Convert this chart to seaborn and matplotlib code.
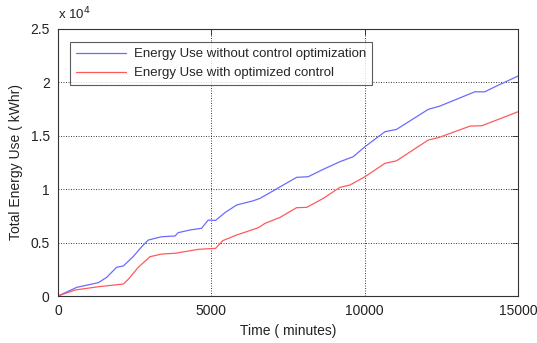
import numpy as np
import pandas as pd
import matplotlib
matplotlib.use("Agg")
import matplotlib.pyplot as plt
import seaborn as sns
from matplotlib.ticker import FuncFormatter

# Data (time in minutes, energy in kWhr)
t_base = [0, 610, 1315, 1590, 1910, 2130, 2450, 2730, 2945, 3380, 3815, 3920, 4300,
          4680, 4900, 5140, 5440, 5825, 6370, 6585, 6965, 7345, 7780, 8160, 8650,
          9190, 9625, 10010, 10660, 11040, 12070, 12450, 13595, 13920, 14300, 15000]
e_base = [0, 810, 1250, 1750, 2690, 2810, 3680, 4620, 5240, 5550, 5620, 5930, 6180,
          6340, 7110, 7080, 7800, 8520, 8920, 9140, 9760, 10390, 11110, 11170, 11860,
          12570, 13040, 13980, 15380, 15600, 17470, 17780, 19120, 19120, 19660, 20590]

t_opt = [0, 555, 1315, 2130, 2290, 2620, 3000, 3380, 3815, 4250, 4575, 5140, 5370,
         5825, 6530, 6750, 7240, 7780, 8110, 8650, 9190, 9520, 10010, 10660, 11040,
         12070, 12400, 13440, 13820, 14300, 15000]
e_opt = [0, 560, 870, 1120, 1560, 2690, 3680, 3930, 4000, 4210, 4370, 4460, 5180,
         5710, 6390, 6800, 7360, 8270, 8300, 9140, 10170, 10390, 11170, 12420, 12660,
         14600, 14820, 15910, 15940, 16470, 17250]

labels = ["Energy Use without control optimization", "Energy Use with optimized control"]
x_ticks = [0, 5000, 10000, 15000]
y_ticks = [0, 5000, 10000, 15000, 20000, 25000]

df = pd.concat([
    pd.DataFrame({"t": t_base, "e": e_base, "series": labels[0]}),
    pd.DataFrame({"t": t_opt, "e": e_opt, "series": labels[1]}),
])

sns.set_style("white")
plt.rcParams['font.family'] = ['Liberation Sans', 'DejaVu Sans']

fig = plt.figure(figsize=(5.37, 3.43), dpi=100)
ax = fig.add_axes([0.108, 0.137, 0.8566, 0.7785])

sns.lineplot(data=df, x="t", y="e", hue="series", sort=False,
             palette={labels[0]: "#6b6bff", labels[1]: "#ff5a5a"},
             linewidth=0.9, ax=ax, estimator=None)

ax.set_xlim(0, 15000)
ax.set_ylim(0, 25000)
ax.set_xticks(x_ticks)
ax.set_yticks(y_ticks)
ax.yaxis.set_major_formatter(FuncFormatter(lambda v, p: f"{v/1e4:g}"))
ax.xaxis.set_major_formatter(FuncFormatter(lambda v, p: f"{int(v)}"))

ax.grid(True, linestyle=(0, (1.2, 1.8)), color="#222222", linewidth=0.6)
ax.set_axisbelow(True)
for s in ax.spines.values():
    s.set_color("#333333")
    s.set_linewidth(0.8)
    s.set_visible(True)
ax.tick_params(direction="in", length=4, width=0.6, top=True, right=True,
               labelsize=10, colors="#222222", pad=6)

ax.set_xlabel("Time ( minutes)", fontsize=10, color="#222222", labelpad=4)
ax.set_ylabel("Total Energy Use ( kWhr)", fontsize=10, color="#222222", labelpad=5)
ax.text(0.0, 1.025, r"x 10$^{4}$", transform=ax.transAxes, fontsize=9.5,
        color="#222222", ha="left", va="bottom")

leg = ax.legend(loc="upper left", bbox_to_anchor=(0.02, 0.96), fontsize=9.5,
                frameon=True, fancybox=False, handlelength=3.8, borderpad=0.45,
                labelspacing=0.5, handletextpad=0.6, borderaxespad=0.2)
leg.get_frame().set_edgecolor("#333333")
leg.get_frame().set_linewidth(0.8)
leg.set_title(None)

fig.savefig("out.png", dpi=100)
